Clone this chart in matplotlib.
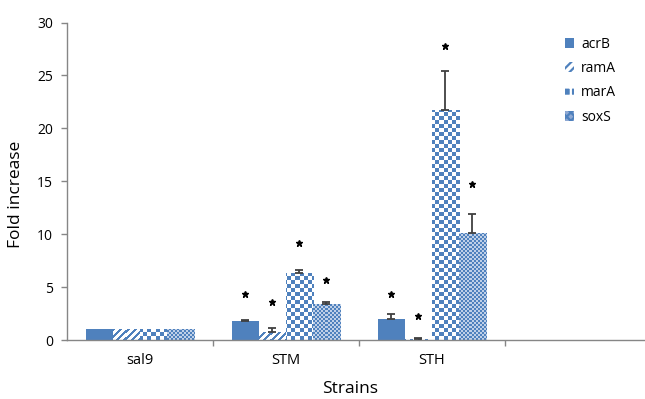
import numpy as np
import matplotlib
matplotlib.use("Agg")
import matplotlib.pyplot as plt
from matplotlib.patches import Patch

# data
STRAINS = ["sal9", "STM", "STH", ""]
GENES = ["acrB", "ramA", "marA", "soxS"]
ACRB = [1.0, 1.8, 2.0]
RAMA = [1.0, 0.75, 0.1]
MARA = [1.0, 6.3, 21.7]
SOXS = [1.0, 3.4, 10.1]
ACRB_ERR = [0.0, 0.1, 0.45]
RAMA_ERR = [0.0, 0.35, 0.05]
MARA_ERR = [0.0, 0.3, 3.7]
SOXS_ERR = [0.0, 0.2, 1.8]
# height of the significance stars (None = no star)
ACRB_STAR = [None, 4.3, 4.3]
RAMA_STAR = [None, 3.6, 2.3]
MARA_STAR = [None, 9.2, 27.8]
SOXS_STAR = [None, 5.7, 14.7]

BLUE = "#4F81BD"
W, H, DPI = 645, 399, 100
AX_RECT = [67 / W, 1 - 340 / H, 1 - 67 / W, (340 - 22.5) / H]
XLIM = (-0.5, 3.46)
YLIM = (0, 30)
BAR_W = 0.185

plt.rcParams["font.family"] = ["Open Sans", "DejaVu Sans"]
plt.rcParams["hatch.linewidth"] = 1.6


def texture(kind, w, h):
    """RGB texture in screen pixels, origin at lower left."""
    yy, xx = np.mgrid[0:h, 0:w]
    img = np.ones((h, w, 3))
    blue = np.array(matplotlib.colors.to_rgb(BLUE))
    if kind == "ramA":
        mask = (xx - yy) % 7 < 3
        img[mask] = blue
    elif kind == "marA":
        mask = (xx // 4 + yy // 4) % 2 == 0
        img[mask] = blue
    elif kind == "soxS":
        light = np.array(matplotlib.colors.to_rgb("#BFD0E8"))
        img[:] = light
        mask = (xx // 2 + yy // 2) % 2 == 0
        img[mask] = blue
    return img


fig = plt.figure(figsize=(W / DPI, H / DPI), dpi=DPI)
ax = fig.add_axes(AX_RECT)
ax.set_xlim(*XLIM)
ax.set_ylim(*YLIM)

px_w = int(round(AX_RECT[2] * W))
px_h = int(round(AX_RECT[3] * H))

series = [(ACRB, ACRB_ERR, ACRB_STAR), (RAMA, RAMA_ERR, RAMA_STAR),
          (MARA, MARA_ERR, MARA_STAR), (SOXS, SOXS_ERR, SOXS_STAR)]
x = np.arange(len(ACRB))

for j, (gene, (vals, errs, stars)) in enumerate(zip(GENES, series)):
    pos = x + (j - 1.5) * BAR_W
    if gene == "acrB":
        ax.bar(pos, vals, BAR_W, color=BLUE, zorder=2)
    else:
        bars = ax.bar(pos, vals, BAR_W, facecolor="none", edgecolor="none", zorder=2)
        tex = texture(gene, px_w, px_h)
        for b in bars:
            im = ax.imshow(tex, extent=(*XLIM, *YLIM), origin="lower",
                           aspect="auto", interpolation="nearest", zorder=2)
            im.set_clip_path(b)
    lower = np.zeros(len(errs))
    show = np.array(errs) > 0
    ax.errorbar(pos[show], np.array(vals)[show],
                yerr=[lower[show], np.array(errs)[show]],
                fmt="none", ecolor="#404040", elinewidth=1.3, capsize=3,
                capthick=1.3, zorder=3)
    for p, s in zip(pos, stars):
        if s is not None:
            ax.plot(p, s, marker="*", color="black", markersize=5, zorder=4)

ax.set_xlim(*XLIM)
ax.set_ylim(*YLIM)

for side in ["top", "right"]:
    ax.spines[side].set_visible(False)
for side in ["left", "bottom"]:
    ax.spines[side].set_color("#868686")
    ax.spines[side].set_linewidth(1.0)

ax.set_yticks(np.arange(0, 31, 5))
ax.tick_params(axis="y", colors="#868686", labelcolor="black", labelsize=10,
               length=4, width=1, pad=6)
ax.set_xticks([0.5, 1.5, 2.5])
ax.set_xticklabels([])
ax.set_xticks(np.arange(len(STRAINS)), minor=True)
ax.set_xticklabels(STRAINS, minor=True)
ax.tick_params(axis="x", which="major", colors="#868686", length=4, width=1)
ax.tick_params(axis="x", which="minor", length=0, labelsize=10.5, pad=9,
               labelcolor="black")

ax.set_ylabel("Fold increase", fontsize=12.5)
ax.yaxis.set_label_coords(-0.075, 0.458)
ax.set_xlabel("Strains", fontsize=12.5)
ax.xaxis.set_label_coords(0.49, -0.13)

handles = [
    Patch(facecolor=BLUE, edgecolor="none"),
    Patch(facecolor="white", edgecolor=BLUE, hatch="////", linewidth=0),
    Patch(facecolor=BLUE, edgecolor="white", hatch="++", linewidth=0),
    Patch(facecolor="#8FA9D3", edgecolor=BLUE, hatch="xxxx", linewidth=0),
]
leg = fig.legend(handles, GENES, loc="upper left",
                 bbox_to_anchor=(552 / W, 1 - 24 / H), frameon=False,
                 fontsize=10, handlelength=0.7, handleheight=0.7,
                 handletextpad=0.5, labelspacing=0.68)

fig.savefig("out.png", dpi=DPI)
